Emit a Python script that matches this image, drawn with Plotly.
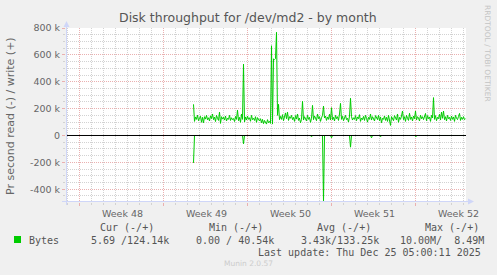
import plotly.graph_objects as go
import pandas as pd

# ---------------- data ----------------
# write throughput (kB/s), one sample every 2 hours starting 2025-12-02 12:00
write_kb = [
    232, 105, 138, 120, 152, 110, 128, 143, 98, 135,
    95, 140, 122, 150, 117, 132, 108, 146, 126, 160,
    118, 137, 104, 150, 128, 112, 174, 90, 140, 122,
    136, 115, 145, 108, 128, 120, 150, 112, 132, 118,
    126, 104, 142, 120, 189, 110, 135, 98, 160, 120,
    531, 100, 138, 115, 145, 120, 132, 106, 150, 118,
    128, 112, 140, 98, 133, 115, 108, 125, 95, 120,
    88, 112, 100, 85, 118, 95, 105, 90, 668, 85,
    570, 565, 572, 768, 150, 232, 118, 142, 120, 155,
    110, 138, 168, 125, 174, 112, 140, 128, 150, 118,
    135, 105, 148, 122, 160, 112, 130, 95, 120, 254,
    115, 140, 125, 108, 150, 120, 135, 98, 128, 224,
    118, 145, 130, 110, 160, 125, 140, 105, 132, 150,
    219, 130, 145, 112, 138, 120, 158, 115, 207, 118,
    135, 108, 150, 125, 140, 112, 160, 239, 120, 142,
    110, 135, 150, 118, 128, 100, 145, 277, 140, 115,
    132, 120, 148, 110, 138, 125, 155, 105, 130, 118,
    142, 112, 150, 128, 100, 135, 120, 160, 115, 140,
    125, 108, 148, 132, 118, 150, 110, 138, 95, 128,
    120, 145, 112, 135, 105, 150, 118, 75, 140, 125,
    110, 148, 130, 115, 160, 98, 135, 120, 145, 182,
    118, 140, 105, 150, 128, 112, 165, 120, 138, 108,
    145, 125, 182, 115, 140, 130, 108, 152, 125, 140,
    118, 135, 164, 110, 148, 125, 138, 105, 150, 130,
    282, 120, 148, 110, 135, 125, 158, 115, 174, 128,
    182, 118, 140, 108, 150, 125, 135, 112, 145, 120,
    138, 105, 150, 128, 118, 142, 164, 112, 135, 120,
    140, 118, 124.14,
]

# read throughput (kB/s), same timestamps, drawn below zero
read_kb = [
    204, 0, 0, 0, 0, 0, 0, 0, 0, 0,
    0, 0, 0, 0, 0, 0, 0, 0, 0, 0,
    0, 0, 0, 0, 0, 0, 0, 0, 0, 0,
    0, 0, 0, 0, 0, 0, 0, 0, 0, 0,
    0, 0, 0, 0, 0, 0, 0, 0, 0, 0,
    62, 0, 0, 0, 0, 0, 0, 0, 0, 0,
    0, 0, 0, 0, 0, 0, 0, 0, 0, 0,
    0, 0, 0, 0, 0, 0, 0, 0, 0, 0,
    0, 0, 0, 0, 0, 0, 0, 0, 0, 0,
    0, 0, 0, 0, 0, 0, 0, 0, 0, 0,
    0, 0, 0, 0, 0, 0, 0, 0, 0, 0,
    0, 0, 0, 0, 0, 0, 0, 0, 10, 0,
    0, 0, 0, 0, 0, 0, 0, 0, 0, 0,
    495, 0, 0, 0, 0, 0, 0, 0, 17, 0,
    0, 0, 0, 0, 0, 0, 0, 0, 0, 0,
    0, 0, 0, 0, 0, 0, 0, 87, 0, 0,
    0, 0, 0, 0, 0, 0, 0, 0, 0, 0,
    0, 0, 0, 0, 0, 0, 0, 0, 17, 0,
    0, 0, 0, 0, 0, 0, 0, 10, 0, 0,
    0, 0, 0, 0, 0, 0, 0, 0, 0, 0,
    0, 0, 0, 0, 0, 0, 0, 0, 0, 0,
    0, 0, 0, 0, 0, 0, 0, 0, 0, 0,
    0, 0, 8, 0, 0, 0, 0, 0, 0, 0,
    0, 0, 0, 0, 0, 0, 0, 0, 0, 0,
    0, 0, 0, 0, 0, 0, 0, 0, 0, 0,
    0, 0, 0, 0, 0, 0, 0, 0, 0, 0,
    0, 0, 0, 0, 0, 0, 0, 0, 0, 0,
    0, 0, 0.00569,
]

first_sample = "2025-12-02 12:00"
range_start = "2025-11-21 21:00"
range_end = "2025-12-25 05:00"

week_starts = ["2025-11-23", "2025-11-30", "2025-12-07", "2025-12-14", "2025-12-21"]
week_labels = ["Week 48", "Week 49", "Week 50", "Week 51", "Week 52"]

y_tick_values = [-400000, -200000, 0, 200000, 400000, 600000, 800000]
y_tick_labels = ["-400 k", "-200 k", "0", "200 k", "400 k", "600 k", "800 k"]
y_min, y_max = -495000, 800000

title_text = "Disk throughput for /dev/md2 - by month"
y_title = "Pr second read (-) / write (+)"
series_name = "Bytes"
stat_headers = ["Cur (-/+)", "Min (-/+)", "Avg (-/+)", "Max (-/+)"]
stat_values = ["5.69 /124.14k", "0.00 / 40.54k", "3.43k/133.25k", "10.00M/\u00a0\u00a08.49M"]
last_update = "Last update: Thu Dec 25 05:00:11 2025"
footer = "Munin 2.0.57"
watermark = "RRDTOOL / TOBI OETIKER"

# ---------------- layout helpers ----------------
FIG_W, FIG_H = 497, 275
L, T, PW, PH = 66, 28, 400, 174
R = FIG_W - L - PW
B = FIG_H - T - PH


def px(x):
    return (x - L) / PW


def py(y):
    return (T + PH - y) / PH


GREEN = "#00cc00"
AXIS_C = "#cfd6f8"
MGRID = "#eab0b0"
GRID = "#d2d2d2"
FONT_C = "#666666"
SANS = "DejaVu Sans"
MONO = "DejaVu Sans Mono"

times = pd.date_range(pd.Timestamp(first_sample), periods=len(write_kb), freq="2h")
week_mid = [pd.Timestamp(d) + pd.Timedelta(hours=86) for d in week_starts]

fig = go.Figure()
fig.add_trace(go.Scatter(x=times, y=[-v * 1000 for v in read_kb], mode="lines",
                         line=dict(color=GREEN, width=1), hoverinfo="skip", showlegend=False))
fig.add_trace(go.Scatter(x=times, y=[v * 1000 for v in write_kb], mode="lines",
                         line=dict(color=GREEN, width=1), hoverinfo="skip", showlegend=False))
fig.add_trace(go.Scatter(x=[], y=[], xaxis="x2", showlegend=False))

fig.update_layout(
    width=FIG_W, height=FIG_H,
    margin=dict(l=L, r=R, t=T, b=B, pad=0),
    paper_bgcolor="#f0f0f0", plot_bgcolor="#ffffff",
    font=dict(family=SANS, size=9.5, color=FONT_C),
    showlegend=False,
    xaxis=dict(
        type="date", range=[range_start, range_end],
        tick0=week_starts[0], dtick=7 * 86400000,
        showticklabels=False,
        showgrid=True, gridcolor=MGRID, griddash="1px,1px", gridwidth=1,
        ticks="outside", ticklen=3, tickcolor=MGRID,
        minor=dict(dtick=86400000, tick0=week_starts[0], showgrid=True, gridcolor=GRID,
                   griddash="1px,1px", ticks="outside", ticklen=2, tickcolor=GRID),
        showline=False, zeroline=False, fixedrange=True,
    ),
    xaxis2=dict(
        type="date", overlaying="x", anchor="y", side="bottom",
        range=[range_start, range_end],
        tickmode="array", tickvals=week_mid, ticktext=week_labels,
        showgrid=False, ticks="", showline=False, zeroline=False,
        tickfont=dict(family=SANS, size=9.5, color=FONT_C),
        ticklabelstandoff=4,
    ),
    yaxis=dict(
        range=[y_min, y_max],
        tickmode="array", tickvals=y_tick_values, ticktext=y_tick_labels,
        showgrid=True, gridcolor=MGRID, griddash="1px,1px", gridwidth=1,
        ticks="outside", ticklen=3, tickcolor=MGRID,
        minor=dict(dtick=50000, tick0=0, showgrid=True, gridcolor=GRID,
                   griddash="1px,1px", ticks="outside", ticklen=2, tickcolor=GRID),
        tickfont=dict(family=SANS, size=9.5, color=FONT_C),
        ticklabelstandoff=0,
        showline=False, zeroline=False, fixedrange=True,
    ),
)

shapes = [
    # zero rule
    dict(type="line", xref="paper", x0=0, x1=1, yref="y", y0=0, y1=0,
         line=dict(color="#000000", width=1), layer="above"),
    # axis lines
    dict(type="line", xref="paper", yref="paper", x0=px(66.5), x1=px(66.5),
         y0=py(205), y1=py(26), line=dict(color=AXIS_C, width=1), layer="above"),
    dict(type="line", xref="paper", yref="paper", x0=px(62), x1=px(468),
         y0=py(201.5), y1=py(201.5), line=dict(color=AXIS_C, width=1), layer="above"),
    # arrows
    dict(type="path", xref="paper", yref="paper",
         path=f"M {px(63.5)},{py(27)} L {px(69.5)},{py(27)} L {px(66.5)},{py(21)} Z",
         fillcolor=AXIS_C, line=dict(width=0), layer="above"),
    dict(type="path", xref="paper", yref="paper",
         path=f"M {px(468)},{py(198.5)} L {px(468)},{py(204.5)} L {px(474)},{py(201.5)} Z",
         fillcolor=AXIS_C, line=dict(width=0), layer="above"),
    # legend colour box
    dict(type="rect", xref="paper", yref="paper", x0=px(14), x1=px(21), y0=py(236), y1=py(243),
         fillcolor=GREEN, line=dict(width=0)),
]
fig.update_layout(shapes=shapes)

ann = []


def add_text(text, x, y, size, color, family=SANS, xanchor="center", angle=0):
    ann.append(dict(text=text, xref="paper", yref="paper", x=px(x), y=py(y),
                    xanchor=xanchor, yanchor="middle", showarrow=False, textangle=angle,
                    font=dict(family=family, size=size, color=color)))


add_text(title_text, 248, 18, 12.5, "#555555")
add_text(y_title, 10, 116, 11, FONT_C, angle=-90)
add_text(watermark, 488, 53, 7.5, "#c4c4c4", angle=90)

header_left = [98, 206.5, 315, 422.5]
for h, x in zip(stat_headers, header_left):
    add_text(h, x, 227, 10, "#555555", family=MONO, xanchor="left")
add_text(series_name, 27, 240, 10, "#555555", family=MONO, xanchor="left")
value_left = [89, 194, 299, 398]
for v, x in zip(stat_values, value_left):
    add_text(v, x, 240, 10, "#555555", family=MONO, xanchor="left")
add_text(last_update, 483, 252, 10, "#555555", family=MONO, xanchor="right")
add_text(footer, 248, 263, 7.5, "#cccccc")

fig.update_layout(annotations=ann)

fig.write_html("out.html")
